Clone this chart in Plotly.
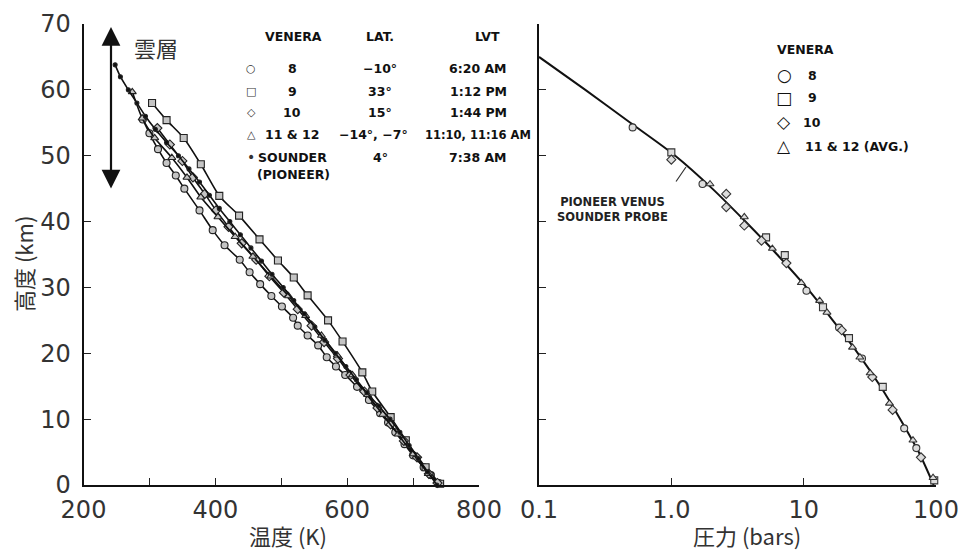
import plotly.graph_objects as go

# ---------------- data: left panel, temperature (K) vs altitude (km) ----------------
v8_alt = [55.5, 53.4, 51.0, 48.9, 47.0, 45.0, 41.7, 38.7, 36.4, 34.2, 32.3, 30.5, 28.7, 27.1,
          25.4, 24.2, 22.7, 21.2, 19.4, 18.0, 16.7, 14.9, 12.9, 10.9, 9.5, 8.0, 6.2, 4.5, 2.7, 1.5, 0.3]
v8_T = [290, 300, 313, 326, 340, 353, 376, 396, 414, 437, 452, 468, 485, 501,
        518, 525, 540, 556, 569, 583, 597, 615, 633, 650, 662, 673, 687, 700, 716, 727, 739]

v9_alt = [58.0, 55.4, 52.7, 48.7, 43.9, 40.9, 37.3, 34.1, 31.5, 28.8, 25.0, 21.8, 17.1, 14.2,
          10.3, 6.8, 2.7, 0.2]
v9_T = [304, 326, 352, 378, 406, 436, 467, 495, 519, 540, 571, 593, 623, 638,
        666, 689, 719, 741]

v10_alt = [54.2, 51.7, 49.2, 46.7, 44.2, 41.7, 39.2, 36.7, 34.2, 31.7, 29.2, 26.7, 24.2, 21.7,
           19.2, 16.7, 14.2, 11.7, 9.2, 6.7, 4.2, 1.7, 0.3]
v10_T = [312, 331, 350, 366, 384, 401, 420, 440, 462, 482, 504, 525, 546, 565,
         586, 605, 626, 646, 666, 686, 706, 724, 737]

v11_alt = [59.7, 55.7, 52.7, 49.7, 46.7, 43.7, 40.7, 37.7, 34.7, 31.7, 28.7, 25.7, 22.7, 19.7,
           16.7, 13.7, 10.7, 7.7, 4.7, 1.7]
v11_T = [274, 289, 308, 334, 357, 378, 404, 430, 457, 484, 511, 537, 561, 585,
         608, 631, 654, 677, 700, 723]

snd_alt = [63.8, 62, 60, 58, 56, 54, 52, 50, 48, 46, 44, 42, 40, 38, 36, 34, 32, 30, 28, 26,
           24, 22, 20, 18, 16, 14, 12, 10, 8, 6, 4, 2, 0]
snd_T = [248, 256, 268, 281, 294, 309, 326, 344, 360, 376, 391, 406, 422, 438, 454, 470, 486,
         503, 519, 535, 551, 566, 582, 598, 614, 630, 648, 665, 680, 694, 708, 722, 736]

# ---------------- data: right panel, pressure (bars) vs altitude (km) ----------------
pv_alt = [65, 60, 55, 50, 45, 40, 35, 30, 25, 20, 15, 10, 5, 0]
pv_p = [0.1, 0.224, 0.49, 1.07, 2.04, 3.63, 6.3, 10.5, 16.6, 25.7, 38, 53.7, 74, 96]

p8 = [0.51, 1.72, 10.5, 18.5, 27.6, 57.5, 71]
p8_alt = [54.3, 45.7, 29.5, 23.9, 19.2, 8.6, 5.6]
p9 = [1.0, 5.2, 7.2, 14, 22, 39.6, 97]
p9_alt = [50.5, 37.6, 34.9, 27.0, 22.3, 14.9, 0.7]
p10 = [1.0, 2.6, 2.6, 3.56, 4.8, 7.4, 19.4, 33, 47, 77]
p10_alt = [49.4, 44.2, 42.2, 39.4, 37.1, 33.7, 23.5, 16.4, 11.4, 4.2]
p11 = [1.96, 3.56, 5.8, 9.6, 13.2, 15, 23.4, 26.6, 31.8, 44.5, 67, 95]
p11_alt = [45.7, 40.7, 35.9, 30.7, 28.0, 26.2, 20.9, 19.4, 17.0, 12.4, 6.8, 1.1]

# ---------------- tick labels ----------------
t_vals = [200, 300, 400, 500, 600, 700, 800]
t_text = ["200", "", "400", "", "600", "", "800"]
alt_vals = [0, 10, 20, 30, 40, 50, 60, 70]
alt_text = ["0", "10", "20", "30", "40", "50", "60", "70"]
p_vals = [0.1, 1, 10, 100]
p_text = ["0.1", "1.0", "10", "100"]

# legend table texts
leg_rows = [("○", "8", "−10°", "6:20 AM"),
            ("□", "9", "33°", "1:12 PM"),
            ("◇", "10", "15°", "1:44 PM"),
            ("△", "11 & 12", "−14°, −7°", "11:10, 11:16 AM"),
            ("•", "SOUNDER", "4°", "7:38 AM")]
leg2_rows = [("○", "8"), ("□", "9"), ("◇", "10"), ("△", "11 & 12 (AVG.)")]

# ---------------- figure ----------------
# the page body has an 8px default margin: the figure is laid out in reference pixels minus it
OFF = 8
W0, H0 = 967, 552
W, H = W0 - OFF, H0 - OFF
fig = go.Figure()

mk_fill = "#c4c4c4"

def left_series(T, z, symbol, size=7, fill=mk_fill, lw=1.6):
    fig.add_trace(go.Scatter(
        x=T, y=z, mode="lines+markers", xaxis="x", yaxis="y",
        line=dict(color="#111", width=lw, shape="spline", smoothing=0.6),
        marker=dict(symbol=symbol, size=size, color=fill, line=dict(color="#222", width=1.1)),
        cliponaxis=False, hoverinfo="skip"))

left_series(v8_T, v8_alt, "circle")
left_series(v9_T, v9_alt, "square")
left_series(v10_T, v10_alt, "diamond")
left_series(v11_T, v11_alt, "triangle-up")
left_series(snd_T, snd_alt, "circle", size=4, fill="#111")

fig.add_trace(go.Scatter(
    x=pv_p, y=pv_alt, mode="lines", xaxis="x2", yaxis="y2",
    line=dict(color="#111", width=2, shape="spline", smoothing=0.8),
    cliponaxis=False, hoverinfo="skip"))

def right_pts(p, z, symbol, size=7):
    fig.add_trace(go.Scatter(
        x=p, y=z, mode="markers", xaxis="x2", yaxis="y2",
        marker=dict(symbol=symbol, size=size, color="#dcdcdc", line=dict(color="#333", width=1.1)),
        cliponaxis=False, hoverinfo="skip"))

right_pts(p8, p8_alt, "circle")
right_pts(p9, p9_alt, "square")
right_pts(p10, p10_alt, "diamond")
right_pts(p11, p11_alt, "triangle-up")

tickfont = dict(family="DejaVu Sans", size=24, color="#333")
axis_common = dict(showline=True, linewidth=2, linecolor="#111", showgrid=False, zeroline=False,
                   ticks="inside", ticklen=7, tickwidth=1.3, tickcolor="#222", tickfont=tickfont,
                   automargin=False)

def PX(px):
    return (px - OFF) / W

def PY(py):
    return (H - (py - OFF)) / H

xd1 = [PX(83.5), PX(479)]
xd2 = [PX(539), PX(936)]
yd = [PY(485), PY(24)]

fig.update_layout(
    width=W, height=H, margin=dict(l=0, r=0, t=0, b=0, pad=0, autoexpand=False),
    paper_bgcolor="white", plot_bgcolor="white", showlegend=False,
    xaxis=dict(domain=xd1, range=[200, 800], tickvals=t_vals, ticktext=t_text,
               anchor="y", ticklabelstandoff=2, **axis_common),
    yaxis=dict(domain=yd, range=[0, 70], tickvals=alt_vals, ticktext=alt_text,
               anchor="x", ticklabelstandoff=6, **axis_common),
    xaxis2=dict(domain=xd2, type="log", range=[-1, 2], tickvals=p_vals, ticktext=p_text,
                anchor="y2", ticklabelstandoff=2, **axis_common),
    yaxis2=dict(domain=yd, range=[0, 70], tickvals=alt_vals, showticklabels=False,
                anchor="x2", **axis_common),
)

def px2T(px):
    return 200 + (px - 83.5) / ((479 - 83.5) / 600)

def py2z(py):
    return (485 - py) / ((485 - 24) / 70)

ann = []
lgf = dict(family="DejaVu Sans", size=12.5, color="#111")
lgb = lambda s: "<b>" + s + "</b>"

def ptext(px, py, text, font, xanchor="center", **kw):
    ann.append(dict(x=PX(px), y=PY(py), xref="paper", yref="paper", text=text, showarrow=False,
                    xanchor=xanchor, yanchor="middle", font=font, **kw))

# cloud layer arrow and label
ann.append(dict(x=px2T(111), y=py2z(27), ax=px2T(111), ay=py2z(190), xref="x", yref="y",
                axref="x", ayref="y", text="", showarrow=True, arrowhead=2, startarrowhead=2,
                arrowside="end+start", arrowwidth=2.2, arrowsize=1.7, startarrowsize=1.7,
                arrowcolor="#111"))
ptext(156, 47, "雲層", dict(family="Noto Sans CJK JP", size=22, color="#333"))

# left legend table
ptext(293, 36, lgb("VENERA"), lgf)
ptext(380, 36, lgb("LAT."), lgf)
ptext(487, 36, lgb("LVT"), lgf)
row_y = [68, 91, 113, 135, 157]
for (sym, name, lat, lvt), ry in zip(leg_rows, row_y):
    ptext(251, ry, sym, dict(family="DejaVu Sans", size=11 if sym != "•" else 14, color="#333"))
    ptext(292, ry, lgb(name), lgf)
    ptext(380 if not lat.startswith("−14") else 373, ry, lgb(lat), lgf)
    if lvt.startswith("11:10"):
        ptext(423, ry, lgb(lvt), dict(family="DejaVu Sans", size=11.5, color="#111"), xanchor="left")
    else:
        ptext(509, ry, lgb(lvt), lgf, xanchor="right")
ptext(293, 174, lgb("(PIONEER)"), lgf)

# right legend
ptext(775, 50, lgb("VENERA"), lgf, xanchor="left")
for (sym, name), ry in zip(leg2_rows, [75, 98, 122, 146]):
    ptext(784, ry, sym, dict(family="DejaVu Sans", size=17, color="#111"))
    if name.startswith("11"):
        ptext(803, ry, lgb(name), lgf, xanchor="left")
    else:
        ptext(812, ry, lgb(name), lgf)

# sounder probe label with leader
ptext(612, 209, lgb("PIONEER VENUS<br>SOUNDER PROBE"),
      dict(family="DejaVu Sans", size=11.5, color="#222"))
ann.append(dict(x=PX(686), y=PY(167), xref="paper", yref="paper", text="", showarrow=True,
                arrowhead=0, arrowwidth=1.2, arrowcolor="#333", ax=-11, ay=16))

# axis titles
tf = dict(family="Noto Sans CJK JP, DejaVu Sans", size=22, color="#333")
ptext(288, 535, "温度 (K)", tf)
ptext(747, 535, "圧力 (bars)", tf)
ptext(23, 264, "高度 (km)", tf, textangle=-90)

fig.update_layout(annotations=ann)
fig.write_html("out.html")
